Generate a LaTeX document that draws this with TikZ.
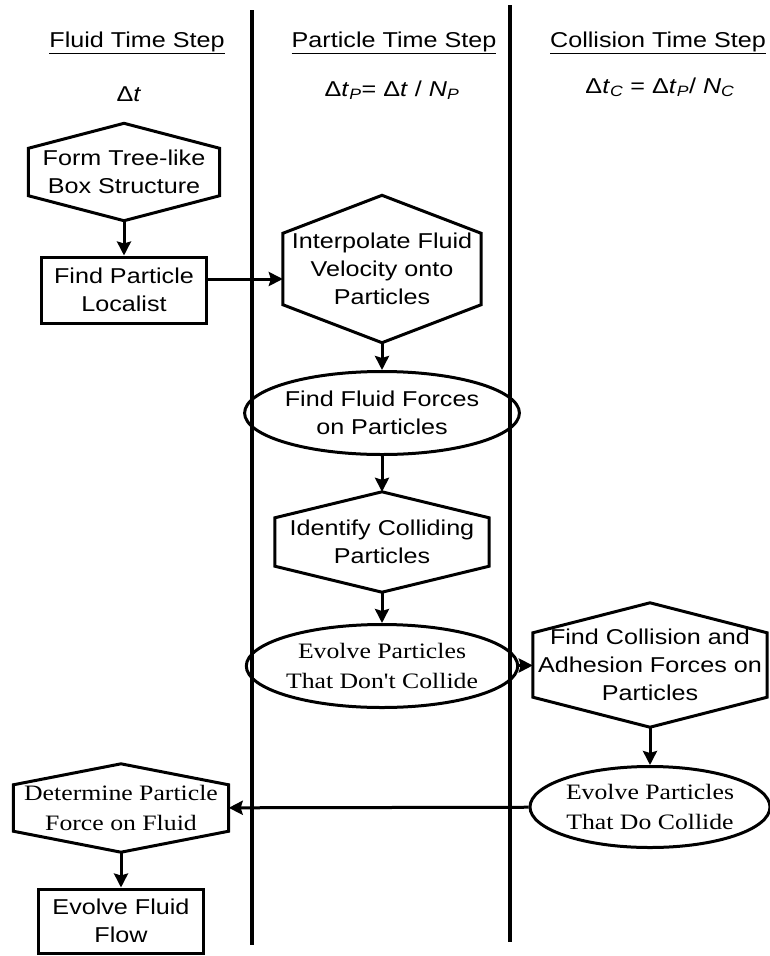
\documentclass[tikz,border=0pt]{standalone}
\usepackage{fontspec}
\setmainfont[FakeStretch=1.17]{Liberation Sans}
\newfontfamily\bookserif[FakeStretch=1.17]{Liberation Serif}
\usepackage{tikz}
\usetikzlibrary{shapes.geometric,arrows.meta}

% hexagon outline round a named node: #1 node, #2 depth of the points
\newcommand{\drawhex}[2]{%
  \draw[line width=3pt] ([yshift=-#2]#1.north west) -- (#1.north) -- ([yshift=-#2]#1.north east)
    -- ([yshift=#2]#1.south east) -- (#1.south) -- ([yshift=#2]#1.south west) -- cycle;}

\begin{document}
\begin{tikzpicture}[x=1pt, y=-1pt]
    \tikzstyle{header} = [anchor=base, font=\fontsize{21.5}{28}\selectfont]
    \tikzstyle{stepbox} = [rectangle, draw, line width=3pt, text centered, align=center, font=\fontsize{21.5}{28}\selectfont]
    \tikzstyle{hexbox} = [rectangle, text centered, align=center, font=\fontsize{21.5}{28}\selectfont]
    \tikzstyle{oval} = [ellipse, draw, line width=3pt, text centered, align=center, inner sep=0pt, font=\fontsize{21.5}{28}\selectfont]
    \tikzstyle{link} = [line width=3pt, -{Stealth[length=14pt, width=14pt, inset=2pt]}]

    \useasboundingbox (0,0) rectangle (770,956);

    % Column separators
    \coordinate (sepA top) at (252,10);
    \coordinate (sepA bot) at (252,945);
    \coordinate (sepB top) at (510,5);
    \coordinate (sepB bot) at (510,942);
    \draw [line width=3.2pt] (sepA top) -- (sepA bot);
    \draw [line width=3.2pt] (sepB top) -- (sepB bot);

    % Column headers
    \node [header] (fluidhead) at (137,47) {\underline{Fluid Time Step}};
    \node [header] (parthead) at (394,47) {\underline{Particle Time Step}};
    \node [header] (collhead) at (658,47) {\underline{Collision Time Step}};

    \node [header] (dtfluid) at (129,101) {Δ\textit{t}};
    \node [header] (dtpart) at (392,96) {Δ\textit{t}\textsubscript{\textit{P}}= Δ\textit{t} / \textit{N}\textsubscript{\textit{P}}};
    \node [header] (dtcoll) at (660,93) {Δ\textit{t}\textsubscript{\textit{C}} = Δ\textit{t}\textsubscript{\textit{P}}/ \textit{N}\textsubscript{\textit{C}}};

    % Fluid column
    \node [hexbox, minimum width=191pt, minimum height=97pt] (tree) at (124,172) {Form Tree-like\\Box Structure};
    \node [stepbox, minimum width=165pt, minimum height=66pt] (localist) at (124,290) {Find Particle\\Localist};
    \node [hexbox, minimum width=215pt, minimum height=88pt, font=\bookserif\fontsize{22}{30}\selectfont] (pforce) at (121,808) {Determine Particle\\Force on Fluid};
    \node [stepbox, minimum width=165pt, minimum height=64pt] (evfluid) at (121,921) {Evolve Fluid\\Flow};

    % Particle column
    \node [hexbox, minimum width=198pt, minimum height=147pt] (interp) at (382,269) {Interpolate Fluid\\Velocity onto\\Particles};
    \node [oval, minimum width=235pt, minimum height=83pt] (fforce) at (382,413) {Find Fluid Forces\\on Particles};
    \node [hexbox, minimum width=214pt, minimum height=100pt] (identify) at (382,542) {Identify Colliding\\Particles};
    \node [oval, minimum width=242pt, minimum height=83pt, font=\bookserif\fontsize{22}{30}\selectfont] (evfree) at (382,666) {Evolve Particles\\That Don't Collide};

    % Collision column
    \node [hexbox, minimum width=234pt, minimum height=124pt] (cforce) at (650,665) {Find Collision and\\Adhesion Forces on\\Particles};
    \node [oval, minimum width=240pt, minimum height=81pt, font=\bookserif\fontsize{22}{30}\selectfont] (evcoll) at (650,807) {Evolve Particles\\That Do Collide};

    \drawhex{tree}{25pt}
    \drawhex{interp}{38pt}
    \drawhex{identify}{26pt}
    \drawhex{cforce}{30pt}
    \drawhex{pforce}{21pt}

    % Connections
    \coordinate (handoff) at ([yshift=11pt]localist.east);
    \draw [link] (tree) -- (localist);
    \draw [link] (handoff) -- (handoff -| interp.west);
    \draw [link] (interp) -- (fforce);
    \draw [link] (fforce) -- (identify);
    \draw [link] (identify) -- (evfree);
    \draw [link] (evfree) -- (cforce);
    \draw [link] (cforce) -- (evcoll);
    \draw [link] (evcoll) -- (pforce);
    \draw [link] (pforce) -- (evfluid);
\end{tikzpicture}
\end{document}
